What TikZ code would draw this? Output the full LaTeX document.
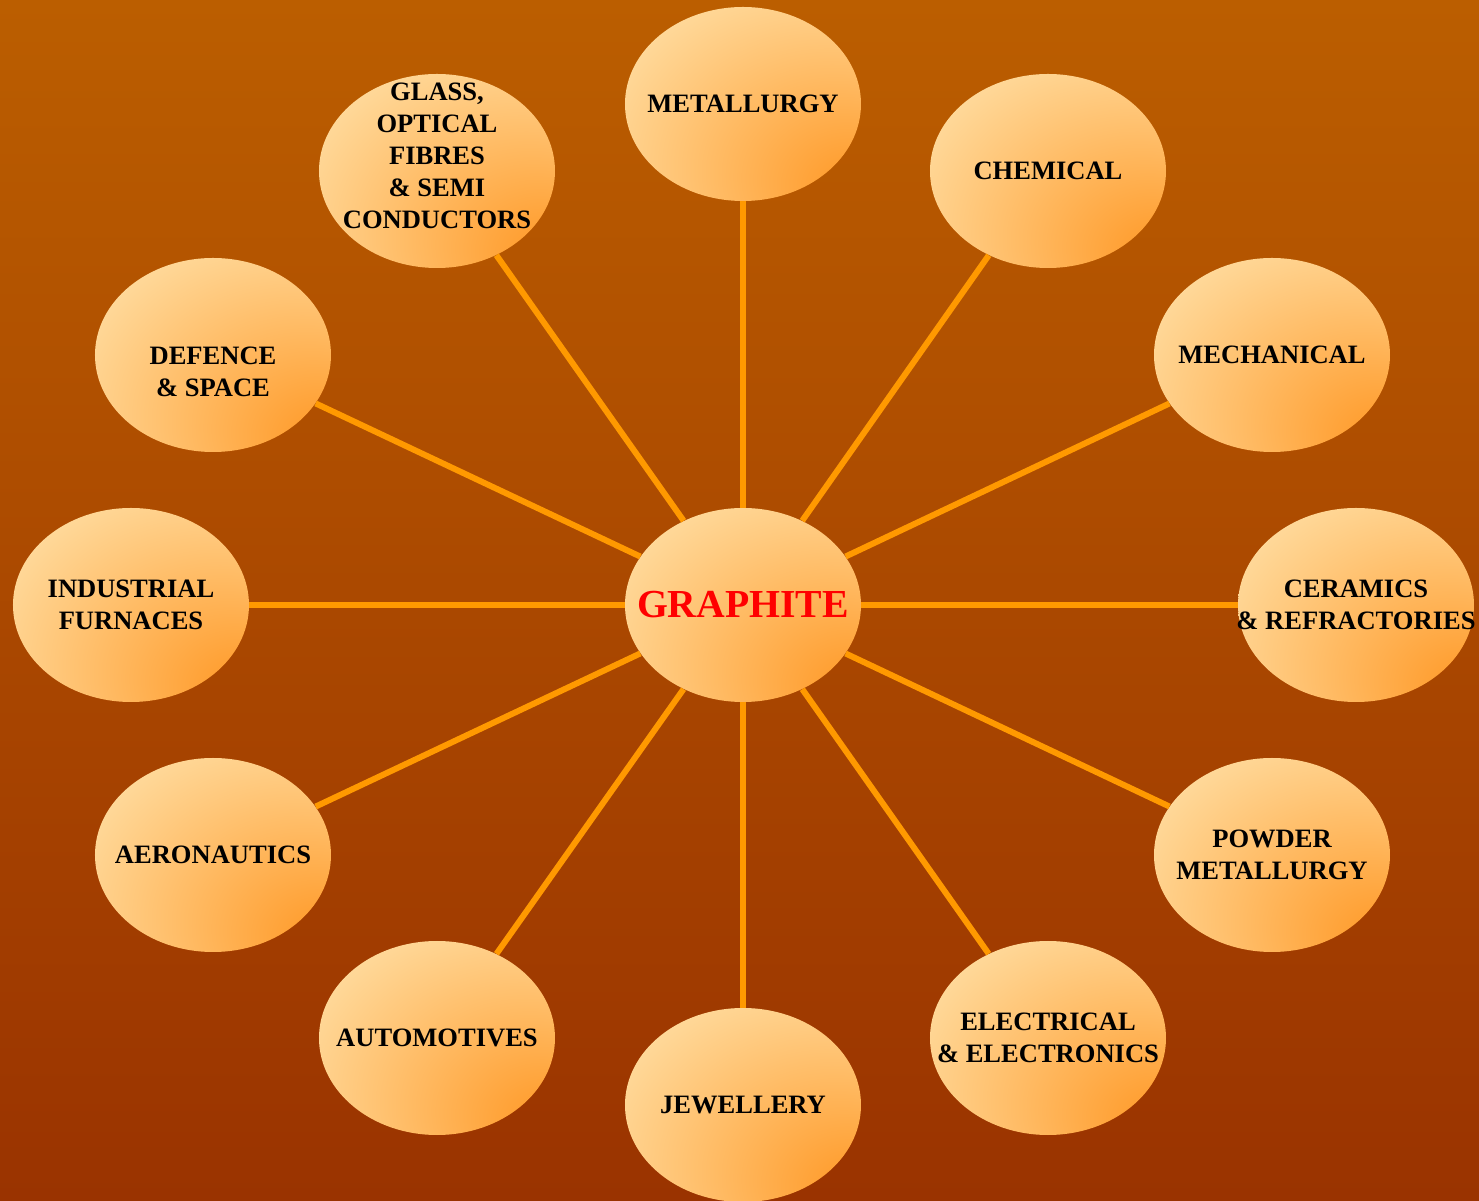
\documentclass[tikz,border=0pt]{standalone}
\usepackage{fontspec}
\setmainfont{Liberation Serif}
\usetikzlibrary{shapes.geometric}

\definecolor{cBubbleLight}{HTML}{FFDA9C}
\definecolor{cBubbleDark}{HTML}{FF9E30}
\pgfdeclareradialshading{bubbleShade}{\pgfpoint{26bp}{-24bp}}{%
	color(0bp)=(cBubbleDark); color(6bp)=(cBubbleDark); color(46bp)=(cBubbleLight); color(100bp)=(cBubbleLight)}

\begin{document}
\begin{tikzpicture}[
	bubble/.style={ellipse, minimum width=4.72cm, minimum height=3.88cm, inner sep=0pt, shade, shading=bubbleShade},
	every label/.style={align=center, text=black, inner sep=0pt, font=\fontsize{15.1}{18.2}\selectfont\bfseries},
	spoke/.style={cLine, line width=3.4pt}
]
	\definecolor{cBackTop}{HTML}{BB5E00}
	\definecolor{cBackBottom}{HTML}{9A3300}
	\definecolor{cLine}{HTML}{FF9900}

	\shade[top color=cBackTop, bottom color=cBackBottom] (-14.86,-11.92) rectangle (14.72,12.1);
	\useasboundingbox (-14.86,-11.92) rectangle (14.72,12.1);

	% centre
	\node[bubble, label={[text=red, font=\fontsize{22.6}{27}\selectfont\bfseries]center:GRAPHITE}] (graphite) at (0,0) {};

	% uses, round the centre
	\node[bubble, label={center:METALLURGY}] (metallurgy) at (0,10.02) {};
	\node[bubble, label={center:CHEMICAL}] (chemical) at (6.1,8.68) {};
	\node[bubble, label={center:MECHANICAL}] (mechanical) at (10.58,5) {};
	\node[bubble, label={center:CERAMICS\\\& REFRACTORIES}] (ceramics) at (12.26,0) {};
	\node[bubble, label={center:POWDER\\METALLURGY}] (powder) at (10.58,-5) {};
	\node[bubble, label={center:ELECTRICAL\\\& ELECTRONICS}] (electrical) at (6.1,-8.66) {};
	\node[bubble, label={center:JEWELLERY}] (jewellery) at (0,-10) {};
	\node[bubble, label={center:AUTOMOTIVES}] (automotives) at (-6.12,-8.66) {};
	\node[bubble, label={center:AERONAUTICS}] (aeronautics) at (-10.6,-5) {};
	\node[bubble, label={center:INDUSTRIAL\\FURNACES}] (furnaces) at (-12.24,0) {};
	\node[bubble, label={[yshift=-0.34cm]center:DEFENCE\\\& SPACE}] (defence) at (-10.6,5) {};
	\node[bubble, label={[yshift=0.3cm]center:GLASS,\\OPTICAL\\FIBRES\\\& SEMI\\CONDUCTORS}] (glass) at (-6.12,8.68) {};

	\draw[spoke] (graphite) -- (metallurgy);
	\draw[spoke] (graphite) -- (chemical);
	\draw[spoke] (graphite) -- (mechanical);
	\draw[spoke] (graphite) -- (ceramics);
	\draw[spoke] (graphite) -- (powder);
	\draw[spoke] (graphite) -- (electrical);
	\draw[spoke] (graphite) -- (jewellery);
	\draw[spoke] (graphite) -- (automotives);
	\draw[spoke] (graphite) -- (aeronautics);
	\draw[spoke] (graphite) -- (furnaces);
	\draw[spoke] (graphite) -- (defence);
	\draw[spoke] (graphite) -- (glass);
\end{tikzpicture}
\end{document}
